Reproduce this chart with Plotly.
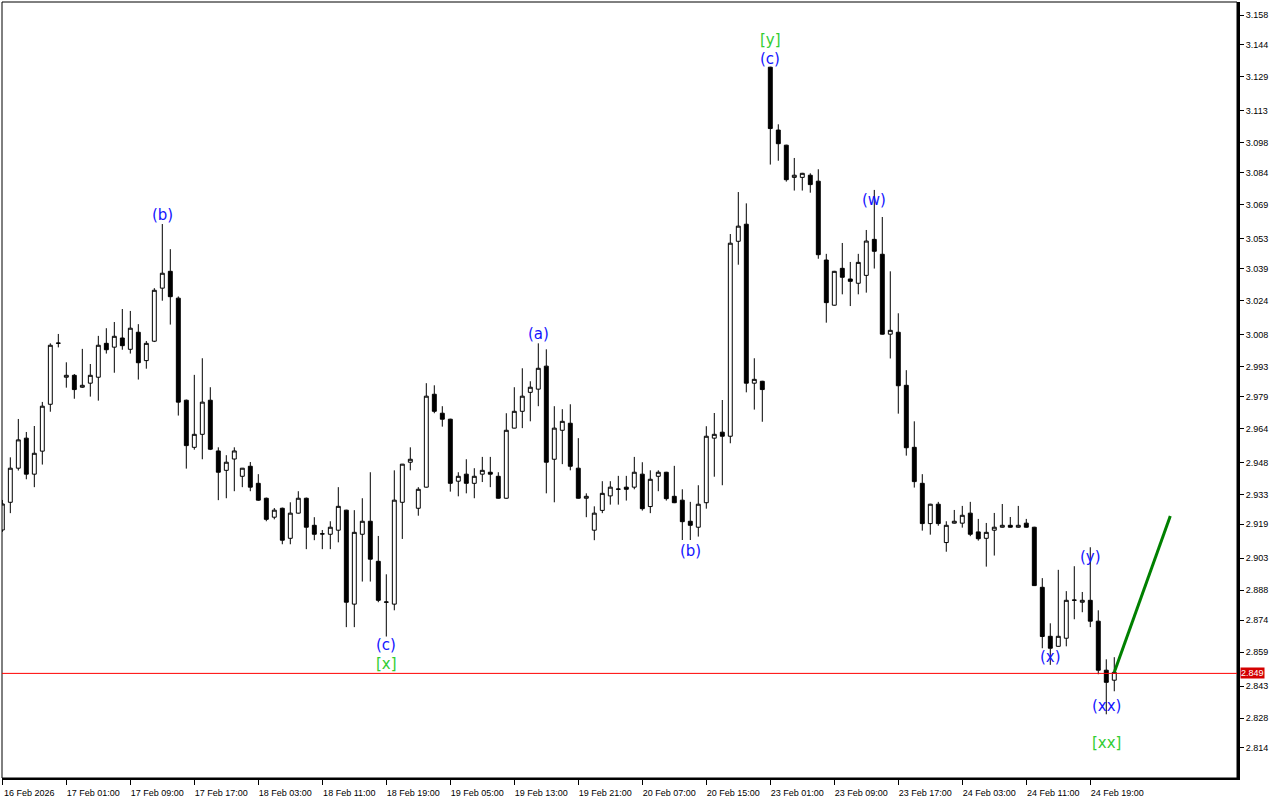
import plotly.graph_objects as go

# ---------------- data (hourly candles) ----------------
opens = [2.9163, 2.9293, 2.9453, 2.9594, 2.9425, 2.9533, 2.9753, 3.0039, 2.9880, 2.9889,
         2.9833, 2.9852, 2.9880, 3.0039, 3.0021, 3.0064, 3.0011, 3.0091, 2.9958, 3.0049,
         3.0298, 3.0377, 3.0251, 2.9772, 2.9551, 2.9612, 2.9772, 2.9534, 2.9443, 2.9496,
         2.9415, 2.9462, 2.9382, 2.9312, 2.9223, 2.9265, 2.9124, 2.9242, 2.9312, 2.9185,
         2.9144, 2.9143, 2.9162, 2.9256, 2.8815, 2.9143, 2.9204, 2.9016, 2.8824, 2.8815,
         2.9293, 2.9481, 2.9265, 2.9364, 2.9800, 2.9711, 2.9683, 2.9392, 2.9425, 2.9382,
         2.9425, 2.9434, 2.9415, 2.9312, 2.9641, 2.9720, 2.9809, 2.9824, 2.9932, 2.9495,
         2.9631, 2.9664, 2.9453, 2.9312, 2.9162, 2.9255, 2.9323, 2.9354, 2.9364, 2.9364,
         2.9425, 2.9273, 2.9415, 2.9434, 2.9321, 2.9303, 2.9204, 2.9176, 2.9291, 2.9594,
         2.9622, 2.9603, 3.0518, 3.0598, 2.9852, 2.9861, 3.1335, 3.1040, 3.0969, 3.0818,
         3.0818, 3.0828, 3.0800, 3.0430, 3.0218, 3.0391, 3.0341, 3.0321, 3.0358, 3.0527,
         3.0457, 3.0082, 3.0091, 2.9842, 2.9551, 2.9382, 2.9193, 2.9284, 2.9104, 2.9195,
         2.9195, 2.9242, 2.9154, 2.9124, 2.9162, 2.9176, 2.9185, 2.9176, 2.9195, 2.9176,
         2.8894, 2.8664, 2.8617, 2.8655, 2.8833, 2.8824, 2.8833, 2.8735, 2.8505, 2.8458]
highs = [2.9304, 2.9504, 2.9684, 2.9623, 2.9651, 2.9764, 3.0039, 3.0083, 2.9950, 2.9895,
         3.0013, 2.9942, 3.0074, 3.0110, 3.0139, 3.0200, 3.0191, 3.0129, 3.0050, 3.0298,
         3.0599, 3.0481, 3.0259, 2.9775, 2.9891, 2.9969, 2.9833, 2.9551, 2.9514, 2.9551,
         2.9454, 2.9482, 2.9425, 2.9315, 2.9266, 2.9268, 2.9293, 2.9345, 2.9315, 2.9223,
         2.9163, 2.9204, 2.9364, 2.9258, 2.9256, 2.9312, 2.9434, 2.9135, 2.8955, 2.9443,
         2.9473, 2.9551, 2.9364, 2.9852, 2.9842, 2.9744, 2.9685, 2.9434, 2.9495, 2.9453,
         2.9506, 2.9506, 2.9434, 2.9711, 2.9833, 2.9922, 2.9861, 3.0039, 3.0011, 2.9744,
         2.9730, 2.9753, 2.9594, 2.9335, 2.9274, 2.9392, 2.9392, 2.9417, 2.9417, 2.9506,
         2.9481, 2.9443, 2.9443, 2.9436, 2.9464, 2.9354, 2.9295, 2.9373, 2.9650, 2.9712,
         2.9773, 3.0552, 3.0749, 3.0696, 2.9969, 2.9863, 3.1337, 3.1067, 3.0971, 3.0909,
         3.0839, 3.0837, 3.0856, 3.0459, 3.0379, 3.0510, 3.0421, 3.0459, 3.0571, 3.0759,
         3.0632, 3.0377, 3.0180, 2.9913, 2.9673, 2.9425, 2.9286, 2.9295, 2.9204, 2.9257,
         2.9276, 2.9295, 2.9215, 2.9196, 2.9243, 2.9285, 2.9224, 2.9276, 2.9215, 2.9178,
         2.8937, 2.8725, 2.8976, 2.8876, 2.8993, 2.8872, 2.9082, 2.8786, 2.8556, 2.8566]
lows = [2.9154, 2.9242, 2.9442, 2.9401, 2.9364, 2.9470, 2.9718, 3.0020, 2.9831, 2.9779,
        2.9830, 2.9789, 2.9770, 2.9991, 2.9901, 3.0009, 2.9991, 2.9869, 2.9920, 3.0045,
        3.0239, 3.0127, 2.9700, 2.9451, 2.9540, 2.9495, 2.9538, 2.9303, 2.9312, 2.9345,
        2.9364, 2.9345, 2.9300, 2.9204, 2.9213, 2.9096, 2.9096, 2.9240, 2.9073, 2.9115,
        2.9073, 2.9073, 2.9105, 2.8707, 2.8707, 2.8921, 2.8921, 2.8824, 2.8663, 2.8786,
        2.9121, 2.9443, 2.9230, 2.9362, 2.9711, 2.9648, 2.9343, 2.9321, 2.9335, 2.9312,
        2.9388, 2.9364, 2.9310, 2.9310, 2.9640, 2.9641, 2.9673, 2.9744, 2.9335, 2.9293,
        2.9472, 2.9443, 2.9310, 2.9223, 2.9115, 2.9242, 2.9282, 2.9282, 2.9301, 2.9354,
        2.9254, 2.9242, 2.9345, 2.9301, 2.9289, 2.9116, 2.9116, 2.9132, 2.9263, 2.9413,
        2.9373, 2.9570, 3.0408, 2.9809, 2.9728, 2.9671, 3.0878, 3.0896, 3.0798, 3.0756,
        3.0756, 3.0746, 3.0436, 3.0136, 3.0216, 3.0269, 3.0214, 3.0269, 3.0277, 3.0390,
        3.0080, 2.9968, 2.9709, 2.9512, 2.9362, 2.9160, 2.9141, 2.9183, 2.9061, 2.9193,
        2.9174, 2.9134, 2.9113, 2.8991, 2.9043, 2.9174, 2.9174, 2.9174, 2.9174, 2.8900,
        2.8608, 2.8530, 2.8615, 2.8617, 2.8744, 2.8777, 2.8707, 2.8486, 2.8298, 2.8406]
closes = [2.9285, 2.9453, 2.9586, 2.9425, 2.9523, 2.9744, 3.0030, 3.0040, 2.9889, 2.9822,
          2.9842, 2.9889, 3.0030, 3.0009, 3.0072, 3.0028, 3.0110, 2.9948, 3.0039, 3.0288,
          3.0368, 3.0258, 2.9763, 2.9559, 2.9612, 2.9763, 2.9542, 2.9434, 2.9481, 2.9534,
          2.9453, 2.9364, 2.9303, 2.9213, 2.9256, 2.9115, 2.9242, 2.9312, 2.9176, 2.9143,
          2.9145, 2.9176, 2.9274, 2.8824, 2.9152, 2.9204, 2.9026, 2.8833, 2.8825, 2.9303,
          2.9472, 2.9495, 2.9354, 2.9791, 2.9720, 2.9683, 2.9382, 2.9415, 2.9382, 2.9415,
          2.9443, 2.9425, 2.9312, 2.9631, 2.9720, 2.9791, 2.9833, 2.9922, 2.9481, 2.9641,
          2.9673, 2.9462, 2.9312, 2.9321, 2.9242, 2.9335, 2.9364, 2.9355, 2.9354, 2.9434,
          2.9263, 2.9401, 2.9434, 2.9310, 2.9291, 2.9202, 2.9185, 2.9284, 2.9603, 2.9612,
          2.9603, 3.0509, 3.0589, 2.9852, 2.9870, 2.9822, 3.1047, 3.0976, 3.0807, 3.0828,
          3.0837, 3.0784, 3.0455, 3.0230, 3.0377, 3.0349, 3.0330, 3.0419, 3.0519, 3.0471,
          3.0082, 3.0100, 2.9840, 2.9549, 2.9390, 2.9193, 2.9284, 2.9193, 2.9185, 2.9204,
          2.9232, 2.9143, 2.9122, 2.9152, 2.9176, 2.9185, 2.9176, 2.9185, 2.9176, 2.8902,
          2.8663, 2.8608, 2.8664, 2.8833, 2.8834, 2.8833, 2.8735, 2.8505, 2.8448, 2.8495]

x_tick_labels = ["16 Feb 2026", "17 Feb 01:00", "17 Feb 09:00", "17 Feb 17:00", "18 Feb 03:00",
                 "18 Feb 11:00", "18 Feb 19:00", "19 Feb 05:00", "19 Feb 13:00", "19 Feb 21:00",
                 "20 Feb 07:00", "20 Feb 15:00", "23 Feb 01:00", "23 Feb 09:00", "23 Feb 17:00",
                 "24 Feb 03:00", "24 Feb 11:00", "24 Feb 19:00"]
x_tick_bars = [0, 8, 16, 24, 32, 40, 48, 56, 64, 72, 80, 88, 96, 104, 112, 120, 128, 136]

y_tick_labels = ["3.158", "3.144", "3.129", "3.113", "3.098", "3.084", "3.069", "3.053",
                 "3.039", "3.024", "3.008", "2.993", "2.979", "2.964", "2.948", "2.933",
                 "2.919", "2.903", "2.888", "2.874", "2.859", "2.843", "2.828", "2.814"]

current_price = 2.849

wave_text = ["(b)", "(c)", "[x]", "(a)", "(b)", "[y]", "(c)", "(w)", "(x)", "(y)", "(xx)", "[xx]"]
wave_bar = [20, 48, 48, 67, 86, 96, 96, 109, 131, 136, 138, 138]
wave_price = [3.0642, 2.8624, 2.8534, 3.0083, 2.9065, 3.1463, 3.1374, 3.0712,
              2.8567, 2.9037, 2.8337, 2.8163]

proj_bar = [139, 146]
proj_price = [2.8495, 2.9229]

# ---------------- figure ----------------
bars = list(range(len(opens)))
fig = go.Figure()
fig.add_trace(go.Candlestick(
    x=bars, open=opens, high=highs, low=lows, close=closes,
    increasing=dict(line=dict(color="black", width=1), fillcolor="white"),
    decreasing=dict(line=dict(color="black", width=1), fillcolor="black"),
    whiskerwidth=0, hoverinfo="skip", showlegend=False))
fig.add_trace(go.Scatter(
    x=proj_bar, y=proj_price, mode="lines",
    line=dict(color="#008000", width=3), hoverinfo="skip", showlegend=False))

tick_font = dict(family="Liberation Sans, Arial, sans-serif", size=9, color="black")

fig.update_layout(
    width=1280, height=800,
    margin=dict(l=2, r=43, t=2, b=22),
    paper_bgcolor="white", plot_bgcolor="white",
    showlegend=False, boxgap=0.3,
    xaxis=dict(range=[-0.04, 154.34], tickmode="array", tickvals=x_tick_bars,
               ticktext=x_tick_labels, ticks="outside", ticklen=5, tickwidth=1,
               tickcolor="black", showline=True, linewidth=2, linecolor="black",
               showgrid=False, zeroline=False, tickfont=tick_font,
               ticklabelshift=27, rangeslider=dict(visible=False), fixedrange=True),
    yaxis=dict(range=[2.7999, 3.1641], side="right", tickmode="array",
               tickvals=[float(t) for t in y_tick_labels], ticktext=y_tick_labels,
               ticks="outside", ticklen=4, tickwidth=1, tickcolor="black",
               showline=True, linewidth=3, linecolor="black",
               showgrid=False, zeroline=False, tickfont=tick_font, fixedrange=True),
)

fig.add_shape(type="rect", xref="paper", yref="paper", x0=0, y0=0, x1=1, y1=1,
              line=dict(color="black", width=1))
fig.add_shape(type="line", xref="paper", yref="y", x0=0, x1=1,
              y0=current_price, y1=current_price, line=dict(color="#ff0000", width=1))

fig.add_annotation(xref="paper", yref="y", x=1, y=current_price, xanchor="left",
                   xshift=3, text=f"{current_price:.3f}", showarrow=False,
                   bgcolor="#d40000", borderpad=0,
                   font=dict(family="Liberation Sans, Arial, sans-serif", size=9, color="white"))

for t, b, p in zip(wave_text, wave_bar, wave_price):
    col = "#32cd32" if t.startswith("[") else "#1414ff"
    fig.add_annotation(x=b, y=p, text=t, showarrow=False,
                       font=dict(family="DejaVu Sans, sans-serif", size=15, color=col))

fig.write_html("out.html", include_plotlyjs=True,
               config={"displayModeBar": False},
               post_script="document.body.style.margin='0px';document.body.style.overflow='hidden';")
